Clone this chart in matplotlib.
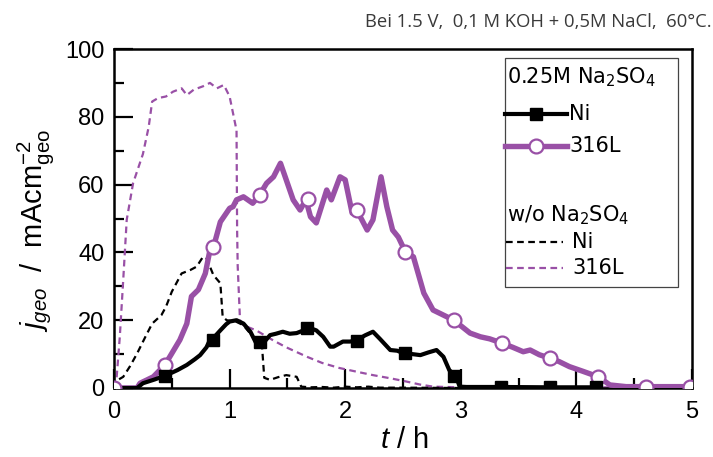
import matplotlib
matplotlib.use("Agg")
import matplotlib.pyplot as plt
from matplotlib.lines import Line2D
from matplotlib.patches import Rectangle

plt.rcParams['font.family'] = ['Liberation Sans', 'DejaVu Sans']
plt.rcParams['mathtext.fontset'] = 'custom'
plt.rcParams['mathtext.rm'] = 'Liberation Sans'
plt.rcParams['mathtext.it'] = 'Liberation Sans:italic'
plt.rcParams['mathtext.bf'] = 'Liberation Sans:bold'
plt.rcParams['mathtext.sf'] = 'DejaVu Sans'

PURPLE = '#9950a6'

# ---- data: 0.25 M Na2SO4, Ni (solid black) ----
ni_t = [0, 0.2, 0.25, 0.35, 0.455, 0.55, 0.63, 0.7, 0.745, 0.8, 0.83, 0.88, 0.92, 0.97,
        1.0, 1.06, 1.12, 1.18, 1.23, 1.29, 1.35, 1.4, 1.46, 1.52, 1.58, 1.64, 1.695, 1.75,
        1.81, 1.87, 1.9, 1.98, 2.04, 2.1, 2.17, 2.24, 2.3, 2.39, 2.45, 2.5, 2.58, 2.65,
        2.72, 2.79, 2.85, 2.9, 2.96, 2.99, 3.05, 3.35, 3.77, 4.17, 4.2]
ni_j = [0, 0, 1.4, 2.5, 3.8, 5.3, 6.8, 8.5, 9.7, 12, 14.2, 15.5, 17, 18.8,
        19.6, 20, 19, 16.6, 13.2, 13.2, 15.6, 16, 16.6, 16, 16.2, 17, 17.7, 17,
        15.1, 12.2, 12.2, 13.7, 13.7, 14, 15.5, 16.6, 14.5, 11.2, 11.0, 10.3, 10, 9.7,
        10.5, 11.2, 9.2, 5.3, 3.3, 0.4, 0.3, 0.3, 0.2, 0.2, 0]
ni_mk_t = [0.44, 0.86, 1.26, 1.67, 2.1, 2.52, 2.94, 3.35, 3.77, 4.17]
ni_mk_j = [3.5, 14.2, 13.5, 17.7, 13.8, 10.3, 3.5, 0.3, 0.3, 0.3]

# ---- data: 0.25 M Na2SO4, 316L (solid purple) ----
ss_t = [0, 0.2, 0.225, 0.28, 0.34, 0.44, 0.5, 0.57, 0.63, 0.67, 0.73, 0.79, 0.83, 0.86,
        0.92, 1.0, 1.03, 1.06, 1.12, 1.2, 1.26, 1.32, 1.38, 1.44, 1.49, 1.55, 1.61, 1.66,
        1.7, 1.75, 1.84, 1.88, 1.955, 2.0, 2.06, 2.1, 2.19, 2.24, 2.31, 2.36, 2.41, 2.46,
        2.52, 2.59, 2.68, 2.76, 2.85, 2.94, 3.08, 3.17, 3.25, 3.36, 3.45, 3.54, 3.6, 3.68,
        3.77, 3.85, 3.94, 4.05, 4.19, 4.29, 4.43, 4.6, 4.8, 4.98]
ss_j = [0, 0, 1.4, 2.3, 3.3, 6.8, 10.2, 14.2, 19, 27, 29, 33.8, 40.7, 41.5,
        49, 53, 53.5, 55.5, 56.4, 54.5, 57, 60.4, 62.3, 66.3, 61.4, 55.5, 52.5, 55.5,
        50.5, 48.7, 58.4, 55.5, 62.3, 61.4, 51.6, 52.5, 46.6, 49.6, 62.3, 53.5, 46.6, 44.5,
        40.2, 38.7, 28, 23, 21.5, 20, 16.2, 15.1, 14.5, 13.2, 12, 10.7, 11.2, 9.8,
        8.8, 7.8, 6.3, 5, 3.3, 0.9, 0.4, 0.4, 0.4, 0.4]
ss_mk_t = [0, 0.44, 0.86, 1.26, 1.68, 2.1, 2.52, 2.94, 3.36, 3.77, 4.19, 4.6, 4.98]
ss_mk_j = [0, 6.8, 41.5, 57, 55.7, 52.5, 40.2, 20, 13.2, 8.8, 3.3, 0.4, 0.4]

# ---- data: w/o Na2SO4, Ni (dashed black) ----
ni0_t = [0, 0.01, 0.08, 0.14, 0.2, 0.27, 0.33, 0.41, 0.45, 0.5, 0.585, 0.66, 0.715, 0.77,
         0.8, 0.86, 0.92, 0.94, 0.975, 1.06, 1.12, 1.18, 1.23, 1.28, 1.3, 1.35, 1.42, 1.49,
         1.58, 1.62, 1.7, 1.8, 1.9, 2.0, 2.1, 2.2, 2.3, 2.5, 3.0]
ni0_j = [0, 1.9, 3.3, 6.5, 10.2, 15, 19, 21.5, 24, 28.4, 33.8, 34.8, 35.8, 38.7,
         38.3, 33.3, 30.9, 21, 20, 19.5, 18.5, 16, 14, 12.5, 3, 2.4, 3.2, 3.8,
         3.3, 0.4, 0.2, 0.3, 0.1, 0.4, 0.2, 0.4, 0.1, 0.1, 0.0]

# ---- data: w/o Na2SO4, 316L (dashed purple) ----
ss0_t = [0, 0.02, 0.05, 0.08, 0.11, 0.165, 0.25, 0.3, 0.33, 0.38, 0.45, 0.51, 0.585, 0.63,
         0.69, 0.77, 0.83, 0.89, 0.95, 1.0, 1.03, 1.06, 1.065, 1.07, 1.09, 1.12, 1.23, 1.38,
         1.49, 1.67, 1.8, 1.95, 2.1, 2.24, 2.4, 2.53, 2.65, 2.76, 3.0, 3.5, 4.0, 4.5, 5.0]
ss0_j = [0, 1.9, 15, 32, 49.6, 60.4, 69, 77, 84.5, 85.5, 86, 87.4, 88.4, 86.4,
         88, 89, 90, 88.4, 89.4, 86, 81, 76, 46.6, 36, 20, 18.5, 17, 14,
         12, 9.2, 7.4, 5.9, 4.8, 3.8, 2.8, 1.9, 1.0, 0.4, 0.2, 0.2, 0.2, 0.2, 0.2]

x_ticks = [0, 1, 2, 3, 4, 5]
y_ticks = [0, 20, 40, 60, 80, 100]

W, H = 713, 457
fig = plt.figure(figsize=(W / 100, H / 100), dpi=100)
ax = fig.add_axes([114 / W, 1 - 388 / H, (692 - 114) / W, (388 - 49) / H])

dash = (0, (3, 2))
ax.plot(ss0_t, ss0_j, color=PURPLE, lw=1.6, linestyle=dash, zorder=2)
ax.plot(ni0_t, ni0_j, color='black', lw=1.6, linestyle=dash, zorder=2)
ax.plot(ss_t, ss_j, color=PURPLE, lw=3.9, zorder=3, solid_joinstyle='round')
ax.plot(ni_t, ni_j, color='black', lw=3.0, zorder=4, solid_joinstyle='round')
ax.plot(ss_mk_t, ss_mk_j, linestyle='none', marker='o', ms=10, mfc='white',
        mec=PURPLE, mew=1.6, zorder=5)
ax.plot(ni_mk_t, ni_mk_j, linestyle='none', marker='s', ms=8.5, mfc='black',
        mec='black', zorder=6)

ax.set_xlim(0, 5)
ax.set_ylim(0, 100)
ax.set_xticks(x_ticks)
ax.set_yticks(y_ticks)
ax.set_xticks([0.5, 1.5, 2.5, 3.5, 4.5], minor=True)
ax.set_yticks([10, 30, 50, 70, 90], minor=True)
ax.tick_params(which='major', direction='in', length=14, width=1.6, labelsize=17, pad=7)
ax.tick_params(which='minor', direction='in', length=7, width=1.6)
ax.tick_params(axis='x', pad=9)
for s in ax.spines.values():
    s.set_linewidth(1.8)

ax.set_xlabel(r'$t$ / h', fontsize=21, va='top')
ax.set_ylabel(r'$j_{geo}$  /  mAcm$^{-2}_{\rm geo}$', fontsize=21)
ax.xaxis.set_label_coords(0.503, -0.112)
ax.yaxis.set_label_coords(-0.10, 0.465)


# ---- legend drawn manually (figure pixel coords) ----
def fx(px):
    return px / W


def fy(py):
    return 1 - py / H


fig.patches.append(Rectangle((fx(505), fy(287)), fx(678) - fx(505), fy(58) - fy(287),
                             transform=fig.transFigure, fill=False, edgecolor='#444444',
                             lw=0.9, zorder=10))
lfs = 15
lfam = ['DejaVu Sans']
fig.text(fx(507), fy(77), r'0.25M Na$_\mathsf{2}$SO$_\mathsf{4}$', fontsize=lfs,
         family=lfam, va='center', ha='left')
fig.text(fx(507), fy(215), r'w/o Na$_\mathsf{2}$SO$_\mathsf{4}$', fontsize=lfs,
         family=lfam, va='center', ha='left')
fig.lines.append(Line2D([fx(505), fx(536), fx(567)], [fy(114)] * 3, transform=fig.transFigure,
                        color='black', lw=3.0, marker='s', ms=8.5, markevery=[1], zorder=11))
fig.lines.append(Line2D([fx(505), fx(536), fx(567)], [fy(146)] * 3, transform=fig.transFigure,
                        color=PURPLE, lw=3.9, marker='o', ms=10, mfc='white', mec=PURPLE,
                        mew=1.6, markevery=[1], zorder=11))
fig.lines.append(Line2D([fx(506), fx(563)], [fy(242)] * 2, transform=fig.transFigure,
                        color='black', lw=1.6, linestyle=dash, zorder=11))
fig.lines.append(Line2D([fx(506), fx(563)], [fy(268)] * 2, transform=fig.transFigure,
                        color=PURPLE, lw=1.6, linestyle=dash, zorder=11))
fig.text(fx(569), fy(114), 'Ni', fontsize=lfs, family=lfam, va='center', ha='left')
fig.text(fx(569), fy(146), '316L', fontsize=lfs, family=lfam, va='center', ha='left')
fig.text(fx(572), fy(242), 'Ni', fontsize=lfs, family=lfam, va='center', ha='left')
fig.text(fx(572), fy(268), '316L', fontsize=lfs, family=lfam, va='center', ha='left')

fig.text(0.998, fy(22), 'Bei 1.5 V,  0,1 M KOH + 0,5M NaCl,  60°C.', fontsize=13.3,
         family=['Open Sans', 'DejaVu Sans'], color='#3a3a3a',
         ha='right', va='center')

fig.savefig('out.png', dpi=100)
